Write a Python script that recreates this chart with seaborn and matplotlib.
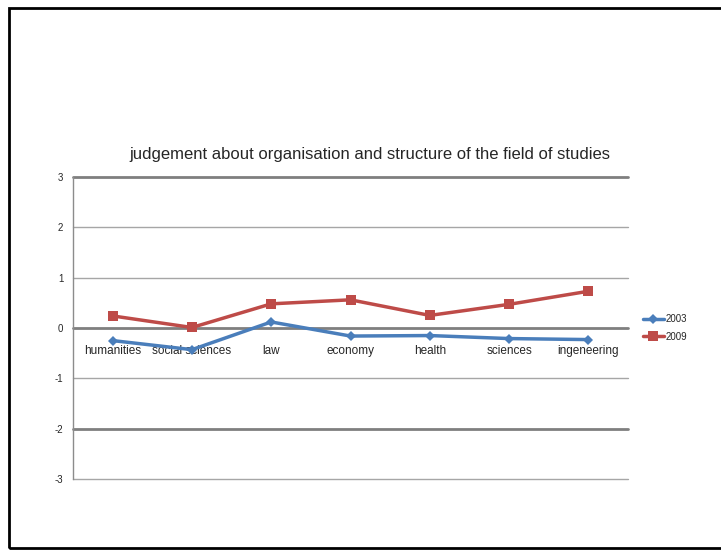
import numpy as np
import pandas as pd
import seaborn as sns
import matplotlib.pyplot as plt
from matplotlib.patches import Rectangle

categories = ["humanities", "social sciences", "law", "economy", "health", "sciences", "ingeneering"]
vals_2003 = [-0.25, -0.43, 0.12, -0.16, -0.15, -0.21, -0.23]
vals_2009 = [0.24, 0.01, 0.48, 0.56, 0.25, 0.47, 0.73]
years = ["2003", "2009"]
y_ticks = [-3, -2, -1, 0, 1, 2, 3]

df = pd.DataFrame({
    "field": categories * 2,
    "year": [years[0]] * len(categories) + [years[1]] * len(categories),
    "score": vals_2003 + vals_2009,
})

sns.set_style("white")
plt.rcParams["font.family"] = ["Liberation Sans", "DejaVu Sans"]

fig = plt.figure(figsize=(7.21, 5.5), dpi=100)
ax = fig.add_axes([73 / 721, 1 - 479 / 550, 555 / 721, 302 / 550])

palette = {"2003": "#4A7EBB", "2009": "#BE4B48"}
sns.lineplot(data=df, x="field", y="score", hue="year", style="year",
             markers={"2003": "D", "2009": "s"}, dashes=False, palette=palette,
             linewidth=2.5, markersize=6, markeredgewidth=0, sort=False, ax=ax)
# fix marker sizes per series
for line in ax.get_lines():
    if line.get_marker() == "D":
        line.set_markersize(5)
    elif line.get_marker() == "s":
        line.set_markersize(7)

ax.set_xlim(-0.5, len(categories) - 0.5)
ax.set_ylim(-3, 3)
ax.set_yticks(y_ticks)
ax.set_yticklabels([str(t) for t in y_ticks], fontsize=7)

# gridlines (thick/dark ones mimic the original rendering)
for t in y_ticks:
    thick = t in (3, 0, -2)
    ax.axhline(t, color="#7f7f7f" if thick else "#a6a6a6",
               linewidth=2.0 if thick else 1.0, zorder=0.5, clip_on=False)

ax.spines["left"].set_color("#8c8c8c")
ax.spines["left"].set_linewidth(1.0)
for s in ["top", "right"]:
    ax.spines[s].set_visible(False)
ax.spines["bottom"].set_position(("data", 0))
ax.spines["bottom"].set_visible(False)
ax.tick_params(axis="both", length=0)
ax.tick_params(axis="y", pad=7)
ax.tick_params(axis="x", pad=12)
ax.set_xticks(range(len(categories)))
ax.set_xticklabels(categories, fontsize=8.5)
ax.set_xlabel("")
ax.set_ylabel("")

fig.text(370 / 721, 1 - 155 / 550, "judgement about organisation and structure of the field of studies",
         ha="center", va="center", fontsize=12)

handles, labels = ax.get_legend_handles_labels()
ax.legend(handles, labels, loc="center left", bbox_to_anchor=(634 / 721, 1 - 328 / 550),
          bbox_transform=fig.transFigure, frameon=False, fontsize=7,
          handlelength=2.2, handletextpad=0.1, labelspacing=0.8)

fig.patches.append(Rectangle((9 / 721, 2 / 550), 1.0, 540 / 550, transform=fig.transFigure,
                             fill=False, edgecolor="black", linewidth=2))

fig.savefig("out.png", dpi=100)
